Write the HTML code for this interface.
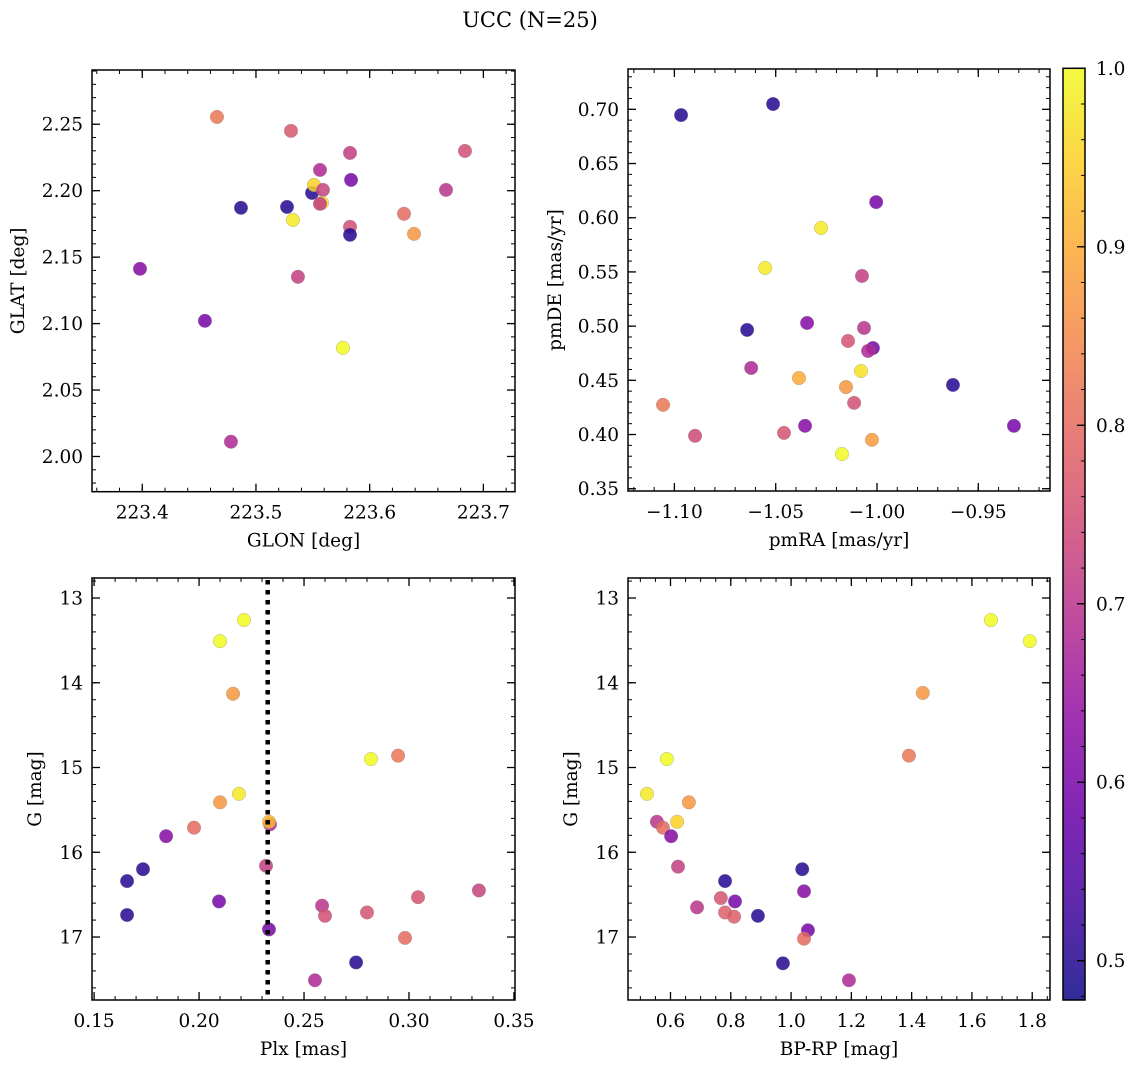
<!DOCTYPE html>
<html><head><meta charset="utf-8"><style>
html,body{margin:0;padding:0;background:#fff;}
svg{display:block;font-family:"DejaVu Serif","Liberation Serif",serif;}
</style></head><body>
<svg id="fig" width="1136" height="1068" viewBox="0 0 1136 1068" xmlns="http://www.w3.org/2000/svg">
<defs><linearGradient id="cbgrad" x1="0" y1="1" x2="0" y2="0"></linearGradient></defs>
<text x="530" y="27" font-size="21" text-anchor="middle">UCC (N=25)</text>
</svg>
<script>
// ---- data ----
const glon = [223.4657,223.5308,223.5563,223.5827,223.6838,223.4868,223.5273,223.5493,223.5510,223.5589,223.5580,223.5836,223.6671,223.6302,223.5827,223.5325,223.5827,223.6390,223.5369,223.3980,223.4551,223.5765,223.4780,223.5563];
const glat = [2.2555,2.2450,2.2156,2.2284,2.2299,2.1871,2.1878,2.1983,2.2043,2.2006,2.1908,2.2081,2.2006,2.1826,2.1728,2.1780,2.1668,2.1675,2.1352,2.1412,2.1021,2.0818,2.0111,2.1901];
const cPos = [0.82,0.77,0.68,0.72,0.75,0.50,0.50,0.50,0.95,0.73,0.97,0.60,0.70,0.80,0.75,0.98,0.50,0.87,0.72,0.62,0.60,1.00,0.68,0.72];

const pmra = [-1.0967,-1.0513,-1.0004,-1.0276,-1.0552,-1.0074,-1.0641,-1.0345,-1.0064,-1.0143,-1.0020,-1.0044,-1.0621,-1.0079,-1.0385,-1.0153,-0.9625,-1.1056,-1.0113,-1.0898,-1.0459,-1.0355,-0.9324,-1.0025,-1.0173];
const pmde = [0.6947,0.7049,0.6144,0.5906,0.5537,0.5463,0.4965,0.5029,0.4983,0.4863,0.4798,0.4771,0.4614,0.4586,0.4521,0.4438,0.4457,0.4274,0.4292,0.3988,0.4015,0.4080,0.4080,0.3951,0.3820];
const cPm = [0.50,0.50,0.60,0.98,0.98,0.72,0.50,0.62,0.70,0.76,0.60,0.68,0.68,0.97,0.90,0.87,0.50,0.82,0.75,0.74,0.76,0.62,0.60,0.88,1.00];

const plx = [0.2338,0.2214,0.2100,0.2162,0.2819,0.2948,0.2190,0.2100,0.1976,0.1843,0.2333,0.2319,0.1657,0.1733,0.1657,0.2095,0.2333,0.2586,0.2600,0.2800,0.3043,0.2981,0.3333,0.2748,0.2552];
const gPlx = [15.67,13.26,13.51,14.13,14.90,14.86,15.31,15.41,15.71,15.81,15.64,16.16,16.34,16.20,16.74,16.58,16.91,16.63,16.75,16.71,16.53,17.01,16.45,17.30,17.51];
const cPlx = [0.68,1.00,1.00,0.87,1.00,0.82,0.98,0.87,0.80,0.62,0.92,0.72,0.50,0.50,0.50,0.60,0.60,0.70,0.75,0.76,0.76,0.80,0.73,0.50,0.68];
const plxLine = [0.2327];

const bprp = [1.663,1.792,1.437,1.391,0.588,0.522,0.661,0.555,0.622,0.575,0.602,0.625,0.781,1.037,1.043,0.688,0.767,0.814,0.781,0.811,0.890,1.056,1.043,0.973,1.192];
const gCmd = [13.26,13.51,14.12,14.86,14.90,15.31,15.41,15.64,15.64,15.71,15.81,16.17,16.34,16.20,16.46,16.65,16.54,16.58,16.71,16.76,16.75,16.92,17.02,17.31,17.51];
const cCmd = [1.00,1.00,0.87,0.82,1.00,0.98,0.87,0.70,0.95,0.80,0.62,0.72,0.50,0.50,0.62,0.70,0.76,0.60,0.78,0.78,0.50,0.60,0.80,0.50,0.68];

const ticksGlon = [223.4,223.5,223.6,223.7];
const ticksGlat = [2.00,2.05,2.10,2.15,2.20,2.25];
const ticksPmra = [-1.10,-1.05,-1.00,-0.95];
const ticksPmde = [0.35,0.40,0.45,0.50,0.55,0.60,0.65,0.70];
const ticksPlx = [0.15,0.20,0.25,0.30,0.35];
const ticksG = [13,14,15,16,17];
const ticksBprp = [0.6,0.8,1.0,1.2,1.4,1.6,1.8];
const ticksCb = [0.5,0.6,0.7,0.8,0.9,1.0];

const vmin=0.478, vmax=1.0;
const plasma=[[13,8,135],[65,4,157],[106,0,168],[143,13,164],[177,42,144],[204,71,120],[225,100,98],[242,132,75],[252,166,54],[252,206,37],[240,249,33]];
function cmap(v){let t=(v-vmin)/(vmax-vmin);t=Math.max(0,Math.min(1,t));const f=t*10,i=Math.min(9,Math.floor(f)),r=f-i;const a=plasma[i],b=plasma[i+1];return `rgb(${Math.round(a[0]+(b[0]-a[0])*r)},${Math.round(a[1]+(b[1]-a[1])*r)},${Math.round(a[2]+(b[2]-a[2])*r)})`;}

const NS="http://www.w3.org/2000/svg";
const svg=document.getElementById('fig');
function mk(tag,attrs,parent){const e=document.createElementNS(NS,tag);for(const k in attrs)e.setAttribute(k,attrs[k]);(parent||svg).appendChild(e);return e;}
function fmt(v,d){let s=v.toFixed(d);return s.replace('-','\u2212');}
const FS=18.5;

function panel(o){
  const g=mk('g',{});
  
  
  const sx=v=>o.x0+(v-o.xmin)/(o.xmax-o.xmin)*(o.x1-o.x0);
  const sy=o.invert? (v=>o.y0+(v-o.ymin)/(o.ymax-o.ymin)*(o.y1-o.y0)) : (v=>o.y1-(v-o.ymin)/(o.ymax-o.ymin)*(o.y1-o.y0));
  const tk=mk('g',{stroke:'#000','stroke-width':1},g);
  for(let v=Math.ceil(o.xmin/o.xminor-1e-9)*o.xminor; v<=o.xmax+1e-9; v+=o.xminor){const X=sx(v);mk('line',{x1:X,x2:X,y1:o.y1,y2:o.y1-4},tk);mk('line',{x1:X,x2:X,y1:o.y0,y2:o.y0+4},tk);}
  for(let v=Math.ceil(o.ymin/o.yminor-1e-9)*o.yminor; v<=o.ymax+1e-9; v+=o.yminor){const Y=sy(v);mk('line',{x1:o.x0,x2:o.x0+4,y1:Y,y2:Y},tk);mk('line',{x1:o.x1,x2:o.x1-4,y1:Y,y2:Y},tk);}
  o.xt.forEach(v=>{const X=sx(v);mk('line',{x1:X,x2:X,y1:o.y1,y2:o.y1-8,'stroke-width':1.3},tk);mk('line',{x1:X,x2:X,y1:o.y0,y2:o.y0+8,'stroke-width':1.3},tk);
    const t=mk('text',{x:X,y:o.y1+27,'font-size':FS,'text-anchor':'middle'},g);t.textContent=fmt(v,o.xd);
    
    });
  o.yt.forEach(v=>{const Y=sy(v);mk('line',{x1:o.x0,x2:o.x0+8,y1:Y,y2:Y,'stroke-width':1.3},tk);mk('line',{x1:o.x1,x2:o.x1-8,y1:Y,y2:Y,'stroke-width':1.3},tk);
    const t=mk('text',{x:o.x0-9,y:Y+6.5,'font-size':FS,'text-anchor':'end'},g);t.textContent=fmt(v,o.yd);
    
    });
  const pts=mk('g',{},g);
  
  
  o.xs.forEach((v,i)=>{const c=mk('circle',{cx:sx(v),cy:sy(o.ys[i]),r:6.8,fill:cmap(o.cs[i]),'fill-opacity':0.85,stroke:'#888','stroke-opacity':0.6,'stroke-width':0.5},pts);
    
    });
  if(o.vline){o.vline.forEach(v=>{const X=sx(v);const l=mk('line',{x1:X,x2:X,y1:o.y0+2,y2:o.y1,stroke:'#000','stroke-width':4.5,'stroke-dasharray':'4.5 5.5'},g);
    
    });}
  const fr=mk('rect',{x:o.x0,y:o.y0,width:o.x1-o.x0,height:o.y1-o.y0,fill:'none',stroke:'#000','stroke-width':1.5},g);
  
  
  const xl=mk('text',{x:(o.x0+o.x1)/2,y:o.y1+55,'font-size':FS,'text-anchor':'middle'},g);xl.textContent=o.xlabel;
  
  
  const yx=o.x0-o.ylo, yy=(o.y0+o.y1)/2;
  const yl=mk('text',{x:yx,y:yy,'font-size':FS,'text-anchor':'middle',transform:`rotate(-90 ${yx} ${yy})`},g);yl.textContent=o.ylabel;
  
  
}

panel({name:'panel-glon-glat',x0:92,x1:515,y0:70,y1:491.7,xmin:223.3558,xmax:223.7278,ymin:1.9735,ymax:2.2908,xminor:0.02,yminor:0.01,xt:ticksGlon,yt:ticksGlat,xd:1,yd:2,xs:glon,ys:glat,cs:cPos,xlabel:'GLON [deg]',ylabel:'GLAT [deg]',ylo:68});
panel({name:'panel-pmra-pmde',x0:628,x1:1050,y0:69,y1:491,xmin:-1.1229,xmax:-0.9146,ymin:0.3479,ymax:0.7372,xminor:0.01,yminor:0.01,xt:ticksPmra,yt:ticksPmde,xd:2,yd:2,xs:pmra,ys:pmde,cs:cPm,xlabel:'pmRA [mas/yr]',ylabel:'pmDE [mas/yr]',ylo:67});
panel({name:'panel-plx-g',x0:92,x1:515,y0:578,y1:1000,xmin:0.149,xmax:0.3505,ymin:12.764,ymax:17.743,invert:true,xminor:0.01,yminor:0.2,xt:ticksPlx,yt:ticksG,xd:2,yd:0,xs:plx,ys:gPlx,cs:cPlx,vline:plxLine,xlabel:'Plx [mas]',ylabel:'G [mag]',ylo:51});
panel({name:'panel-cmd',x0:628,x1:1050,y0:578,y1:1000,xmin:0.459,xmax:1.859,ymin:12.764,ymax:17.743,invert:true,xminor:0.05,yminor:0.2,xt:ticksBprp,yt:ticksG,xd:1,yd:0,xs:bprp,ys:gCmd,cs:cCmd,xlabel:'BP-RP [mag]',ylabel:'G [mag]',ylo:51});

const grad=document.getElementById('cbgrad');
for(let i=0;i<=20;i++){mk('stop',{offset:(i/20),'stop-color':cmap(vmin+(vmax-vmin)*i/20)},grad);}
const cb=mk('g',{});


const cx0=1063,cx1=1085,cy0=68.3,cy1=1000;
const cy=v=>cy1-(v-vmin)/(vmax-vmin)*(cy1-cy0);
mk('rect',{x:cx0,y:cy0,width:cx1-cx0,height:cy1-cy0,fill:'url(#cbgrad)','fill-opacity':0.85},cb);
for(let v=0.48;v<=1.0001;v+=0.02){mk('line',{x1:cx1,x2:cx1-4,y1:cy(v),y2:cy(v),stroke:'#000','stroke-width':1},cb);}
ticksCb.forEach(v=>{mk('line',{x1:cx1,x2:cx1-8,y1:cy(v),y2:cy(v),stroke:'#000','stroke-width':1.3},cb);
  const t=mk('text',{x:cx1+11,y:cy(v)+6.5,'font-size':FS},cb);t.textContent=v.toFixed(1);
  
  });
mk('rect',{x:cx0,y:cy0,width:cx1-cx0,height:cy1-cy0,fill:'none',stroke:'#000','stroke-width':1.5},cb);
</script>
</body></html>
